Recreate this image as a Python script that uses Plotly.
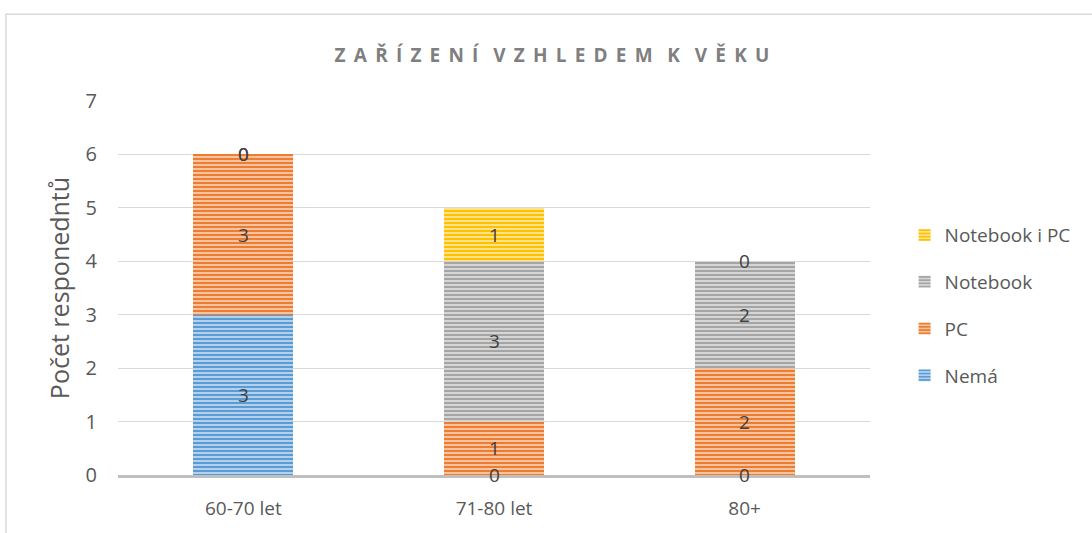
import plotly.graph_objects as go

categories = ["60-70 let", "71-80 let", "80+"]
series_names = ["Nemá", "PC", "Notebook", "Notebook i PC"]
nema = [3, 0, 0]
pc = [3, 1, 2]
notebook = [0, 3, 2]
notebook_pc = [0, 1, 0]
y_ticks = [0, 1, 2, 3, 4, 5, 6, 7]

values = [nema, pc, notebook, notebook_pc]
colors = ["#5B9BD5", "#ED7D31", "#A5A5A5", "#FFC000"]
light = ["#BDD7EE", "#F8CBAD", "#DBDBDB", "#FFE699"]

FONT = "Open Sans"
fig = go.Figure()
n = len(series_names)
for k, (name, vals, c, lc) in enumerate(zip(series_names, values, colors, light)):
    fig.add_trace(go.Bar(
        x=categories, y=vals, name=name, legendgroup=name, legendrank=n - k,
        marker=dict(color=c, line=dict(width=0),
                    pattern=dict(shape="-", size=4, solidity=0.55,
                                 fgcolor=c, bgcolor=lc, fillmode="replace")),
        hoverinfo="skip",
    ))

# data labels computed from stacked values
cum = [0] * len(categories)
annotations = []
for vals in values:
    for i, v in enumerate(vals):
        annotations.append(dict(x=categories[i], y=cum[i] + v / 2, text=str(v),
                                showarrow=False, xref="x", yref="y",
                                font=dict(family=FONT, size=19, color="#404040")))
        cum[i] += v

sep = "\u2009\u2009\u200a"
title_text = "   ".join(sep.join(list(w)) for w in ["ZAŘÍZENÍ", "VZHLEDEM", "K", "VĚKU"])

fig.update_layout(
    width=1092, height=533,
    barmode="stack", bargap=0.6,
    paper_bgcolor="white", plot_bgcolor="white",
    margin=dict(l=118, r=222, t=101, b=53),
    title=dict(text=title_text, x=552/1092, xanchor="center", y=1 - 55/533, yanchor="middle",
               font=dict(family=FONT, size=19, color="#7F7F7F", weight="bold")),
    font=dict(family=FONT, color="#595959"),
    legend=dict(x=1.046, y=0.454, xanchor="left", yanchor="middle",
                font=dict(family=FONT, size=19, color="#595959"),
                tracegroupgap=19, traceorder="grouped"),
    showlegend=True,
    annotations=annotations,
    xaxis=dict(showline=True, linecolor="#BFBFBF", linewidth=3, showgrid=False,
               tickfont=dict(family=FONT, size=19, color="#595959"),
               ticks="", ticklabelstandoff=14, zeroline=False),
    yaxis=dict(range=[0, 7], tickvals=y_ticks, showgrid=True, gridcolor="#D9D9D9",
               gridwidth=1, zeroline=False, showline=False, ticks="",
               tickfont=dict(family=FONT, size=20, color="#595959"),
               ticklabelstandoff=20,
               title=dict(text="Počet responedntů", standoff=8,
                          font=dict(family=FONT, size=25, color="#595959"))),
    shapes=[dict(type="rect", xref="paper", yref="paper",
                 x0=(6 - 118) / 752, x1=1.6, y0=-0.5, y1=(480 - 13) / 379,
                 line=dict(color="#D9D9D9", width=1.5), layer="below")],
)

fig.write_html("out.html", config={"displayModeBar": False},
               post_script="document.body.style.margin='0';")
